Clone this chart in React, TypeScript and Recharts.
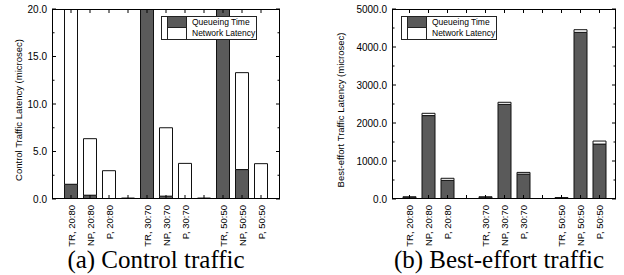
import React from 'react';
import { BarChart, Bar, XAxis, YAxis } from 'recharts';

// categories (blank slots separate the traffic mixes)
const categories = ['TR, 20:80', 'NP, 20:80', 'P, 20:80', '', 'TR, 30:70', 'NP, 30:70', 'P, 30:70', ' ', 'TR, 50:50', 'NP, 50:50', 'P, 50:50'];

// (a) control traffic, microsec (TR bars run off the top of the axis)
const controlQueue = [1.55, 0.4, 0, 0.1, 40, 0.3, 0, 0.1, 40, 3.1, 0];
const controlNetwork = [40, 5.95, 2.98, 0, 5, 7.2, 3.75, 0, 5, 10.2, 3.72];

// (b) best-effort traffic, microsec
const bestQueue = [35, 2195, 490, 8, 35, 2490, 655, 8, 25, 4385, 1445];
const bestNetwork = [25, 60, 55, 0, 25, 55, 45, 0, 12, 70, 80];

const controlTicks = [0, 2.5, 5, 7.5, 10, 12.5, 15, 17.5, 20];
const bestTicks = [0, 500, 1000, 1500, 2000, 2500, 3000, 3500, 4000, 4500, 5000];

const seriesNames = ['Queueing Time', 'Network Latency'];

const DARK = '#5a5a5a';
const SANS = '"Liberation Sans", Arial, sans-serif';

const TOP = 9;
const BOTTOM = 199;

interface PanelProps {
  left: number;
  width: number;
  plotLeft: number;
  plotRight: number;
  queue: number[];
  network: number[];
  ticks: number[];
  major: number;
  yTitle: string;
  yTitleX: number;
  legendLeft: number;
  padL: number;
  padR: number;
}

function Panel(p: PanelProps) {
  const data = categories.map((name, i) => ({ name, queue: p.queue[i], network: p.network[i] }));
  const pl = p.plotLeft;
  const pr = p.plotRight;
  const top = p.ticks[p.ticks.length - 1];

  const yTick = (props: any) => {
    const { y, payload } = props;
    const isMajor = Math.abs(payload.value % p.major) < 1e-9;
    const len = isMajor ? 4 : 2.5;
    return (
      <g>
        <line x1={pl} x2={pl + len} y1={y} y2={y} stroke="#000" />
        <line x1={pr} x2={pr - len} y1={y} y2={y} stroke="#000" />
        {isMajor && (
          <text x={pl - 5} y={y} textAnchor="end" dominantBaseline="central" fontSize={10} fontFamily={SANS} fill="#000">
            {payload.value.toFixed(1)}
          </text>
        )}
      </g>
    );
  };

  const xTick = (props: any) => {
    const { x, payload } = props;
    const lx = x + 3.5;
    const ly = BOTTOM + 6;
    return (
      <g>
        <line x1={x} x2={x} y1={BOTTOM} y2={BOTTOM - 4} stroke="#000" />
        <line x1={x} x2={x} y1={TOP} y2={TOP + 4} stroke="#000" />
        <text x={lx} y={ly} transform={`rotate(-90 ${lx} ${ly})`} textAnchor="end" fontSize={9.5} fontFamily={SANS} fill="#000">
          {payload.value}
        </text>
      </g>
    );
  };

  const axisX = p.yTitleX;
  const axisY = (TOP + BOTTOM) / 2 + 6;

  return (
    <div style={{ position: 'absolute', left: p.left, top: 0, width: p.width, height: 250 }}>
      <BarChart width={p.width} height={250} data={data} margin={{ top: TOP, right: p.width - pr, left: 0, bottom: 0 }} barSize={13}>
        <XAxis dataKey="name" interval={0} height={250 - BOTTOM} tickLine={false} axisLine={false} tick={xTick} padding={{ left: p.padL, right: p.padR }} />
        <YAxis width={pl} domain={[0, top]} ticks={p.ticks} interval={0} allowDataOverflow tickLine={false} axisLine={false} tick={yTick} />
        <Bar dataKey="queue" stackId="s" fill={DARK} stroke="#111" strokeWidth={1} isAnimationActive={false} />
        <Bar dataKey="network" stackId="s" fill="#fff" stroke="#111" strokeWidth={1} isAnimationActive={false} />
      </BarChart>
      {/* plot frame */}
      <div style={{ position: 'absolute', left: pl, top: TOP, width: pr - pl, height: BOTTOM - TOP, border: '1px solid #000', boxSizing: 'border-box', pointerEvents: 'none' }} />
      <svg style={{ position: 'absolute', left: 0, top: 0, overflow: 'visible', pointerEvents: 'none' }} width={p.width} height={250}>
        <text x={axisX} y={axisY} transform={`rotate(-90 ${axisX} ${axisY})`} textAnchor="middle" dominantBaseline="central" fontSize={9.5} fontFamily={SANS} fill="#000">
          {p.yTitle}
        </text>
      </svg>
      {/* legend */}
      <div style={{ position: 'absolute', left: p.legendLeft - p.left, top: 16, border: '1px solid #222', background: '#fff', fontFamily: SANS, fontSize: 8.5, lineHeight: '11px', paddingLeft: 5 }}>
        {seriesNames.map((n, i) => (
          <div key={n} style={{ display: 'flex', alignItems: 'center', height: 11 }}>
            <span style={{ width: 20, height: 11, boxSizing: 'border-box', background: i === 0 ? DARK : '#fff', borderLeft: '1px solid #222', borderRight: '1px solid #222', borderBottom: i === 0 ? '1px solid #222' : 'none' }} />
            <span style={{ marginLeft: 5, paddingRight: 1 }}>{n}</span>
          </div>
        ))}
      </div>
    </div>
  );
}

const titleStyle: React.CSSProperties = { position: 'absolute', top: 246, width: 312, textAlign: 'center', fontFamily: '"Liberation Serif", serif', fontSize: 25, whiteSpace: 'nowrap' };

export default function App() {
  return (
    <div style={{ position: 'absolute', left: 0, top: 0, width: 624, height: 275, background: '#fff', overflow: 'hidden' }}>
      <Panel left={0} width={290} plotLeft={52} plotRight={280} queue={controlQueue} network={controlNetwork} ticks={controlTicks} major={5}
        yTitle="Control Traffic Latency (microsec)" yTitleX={18} legendLeft={161} padL={9.5} padR={9.5} />
      <Panel left={300} width={324} plotLeft={92} plotRight={316} queue={bestQueue} network={bestNetwork} ticks={bestTicks} major={1000}
        yTitle="Best-effort Traffic Latency (microsec)" yTitleX={40} legendLeft={401} padL={8} padR={7} />
      <div style={{ ...titleStyle, left: 0 }}>(a) Control traffic</div>
      <div style={{ ...titleStyle, left: 343 }}>(b) Best-effort traffic</div>
    </div>
  );
}
